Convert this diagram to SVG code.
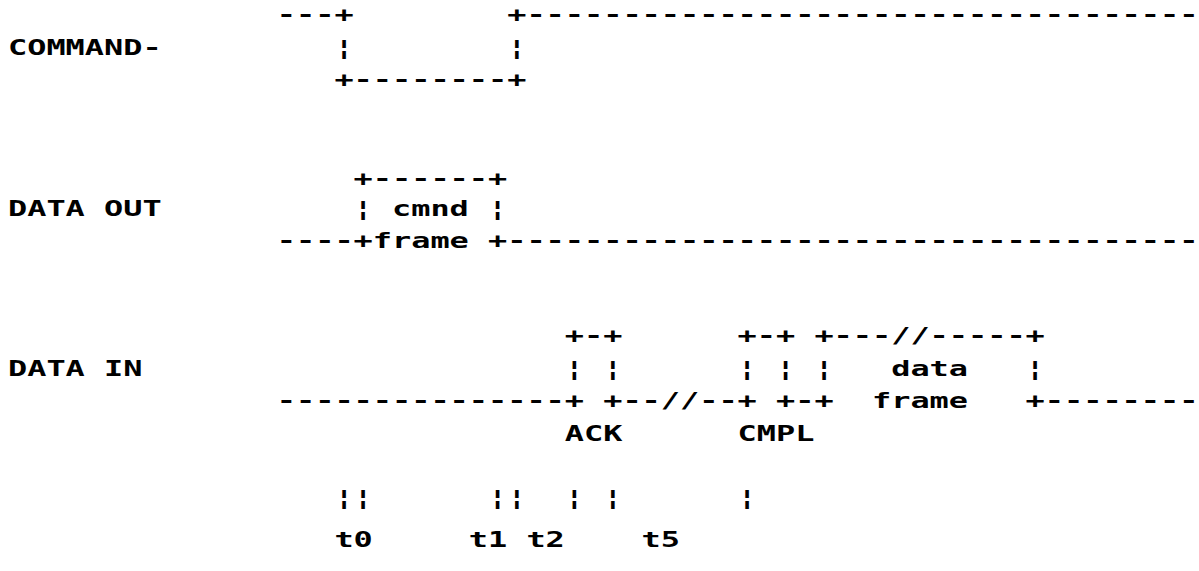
<svg xmlns="http://www.w3.org/2000/svg" width="1199" height="571" viewBox="0 0 1199 571">
<style>
.t { font-family: "DejaVu Sans Mono", "Liberation Mono", monospace; font-size: 22px; font-weight: bold; fill: #000; }
</style>
<rect width="1199" height="571" fill="#fff"/>
<g id="command">
<text class="t" x="276.8" y="22" textLength="76.8" lengthAdjust="spacingAndGlyphs">---+</text>
<text class="t" x="507.2" y="22" textLength="691.2" lengthAdjust="spacingAndGlyphs">+-----------------------------------</text>
<text class="t" x="8" y="54.7" textLength="153.6" lengthAdjust="spacingAndGlyphs">COMMAND-</text>
<text class="t" x="334.4" y="54.7" textLength="19.2" lengthAdjust="spacingAndGlyphs">¦</text>
<text class="t" x="507.2" y="54.7" textLength="19.2" lengthAdjust="spacingAndGlyphs">¦</text>
<text class="t" x="334.4" y="87.4" textLength="192" lengthAdjust="spacingAndGlyphs">+--------+</text>
</g>
<g id="data-out">
<text class="t" x="353.6" y="186" textLength="153.6" lengthAdjust="spacingAndGlyphs">+------+</text>
<text class="t" x="8" y="215.5" textLength="153.6" lengthAdjust="spacingAndGlyphs">DATA OUT</text>
<text class="t" x="353.6" y="215.5" textLength="153.6" lengthAdjust="spacingAndGlyphs">¦ cmnd ¦</text>
<text class="t" x="276.8" y="248" textLength="921.6" lengthAdjust="spacingAndGlyphs">----+frame +------------------------------------</text>
</g>
<g id="data-in">
<text class="t" x="564.8" y="343" textLength="57.6" lengthAdjust="spacingAndGlyphs">+-+</text>
<text class="t" x="737.6" y="343" textLength="307.2" lengthAdjust="spacingAndGlyphs">+-+ +---//-----+</text>
<text class="t" x="8" y="375.5" textLength="134.4" lengthAdjust="spacingAndGlyphs">DATA IN</text>
<text class="t" x="564.8" y="375.5" textLength="57.6" lengthAdjust="spacingAndGlyphs">¦ ¦</text>
<text class="t" x="737.6" y="375.5" textLength="96" lengthAdjust="spacingAndGlyphs">¦ ¦ ¦</text>
<text class="t" x="891.2" y="375.5" textLength="76.8" lengthAdjust="spacingAndGlyphs">data</text>
<text class="t" x="1025.6" y="375.5" textLength="19.2" lengthAdjust="spacingAndGlyphs">¦</text>
<text class="t" x="276.8" y="408" textLength="556.8" lengthAdjust="spacingAndGlyphs">---------------+ +--//--+ +-+</text>
<text class="t" x="872" y="408" textLength="96" lengthAdjust="spacingAndGlyphs">frame</text>
<text class="t" x="1025.6" y="408" textLength="172.8" lengthAdjust="spacingAndGlyphs">+--------</text>
<text class="t" x="564.8" y="440.5" textLength="57.6" lengthAdjust="spacingAndGlyphs">ACK</text>
<text class="t" x="737.6" y="440.5" textLength="76.8" lengthAdjust="spacingAndGlyphs">CMPL</text>
</g>
<g id="timing">
<text class="t" x="334.4" y="505" textLength="38.4" lengthAdjust="spacingAndGlyphs">¦¦</text>
<text class="t" x="488" y="505" textLength="38.4" lengthAdjust="spacingAndGlyphs">¦¦</text>
<text class="t" x="564.8" y="505" textLength="19.2" lengthAdjust="spacingAndGlyphs">¦</text>
<text class="t" x="603.2" y="505" textLength="19.2" lengthAdjust="spacingAndGlyphs">¦</text>
<text class="t" x="737.6" y="505" textLength="19.2" lengthAdjust="spacingAndGlyphs">¦</text>
<text class="t" x="334.4" y="547" textLength="38.4" lengthAdjust="spacingAndGlyphs">t0</text>
<text class="t" x="468.8" y="547" textLength="38.4" lengthAdjust="spacingAndGlyphs">t1</text>
<text class="t" x="526.4" y="547" textLength="38.4" lengthAdjust="spacingAndGlyphs">t2</text>
<text class="t" x="641.6" y="547" textLength="38.4" lengthAdjust="spacingAndGlyphs">t5</text>
</g>
</svg>
